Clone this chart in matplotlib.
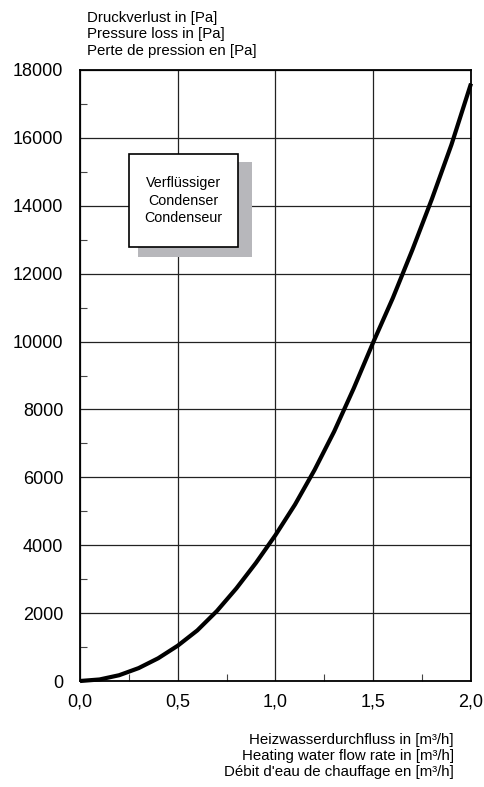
import numpy as np
from matplotlib import pyplot as plt
from matplotlib.patches import Rectangle
from matplotlib.ticker import MultipleLocator, FuncFormatter

plt.rcParams['font.family'] = ['Liberation Sans', 'DejaVu Sans']

# Heizwasserdurchfluss [m3/h] und Druckverlust [Pa]
flowRate = [0.0, 0.1, 0.2, 0.3, 0.4, 0.5, 0.6, 0.7, 0.8, 0.9, 1.0,
            1.1, 1.2, 1.3, 1.4, 1.5, 1.6, 1.7, 1.8, 1.9, 2.0]
pressureLoss = [0, 45, 170, 380, 670, 1040, 1490, 2060, 2730, 3480, 4300,
                5200, 6220, 7350, 8620, 9980, 11280, 12700, 14200, 15800, 17600]

yLabelLines = ["Druckverlust in [Pa]", "Pressure loss in [Pa]", "Perte de pression en [Pa]"]
xLabelLines = ["Heizwasserdurchfluss in [m³/h]", "Heating water flow rate in [m³/h]",
               "Débit d'eau de chauffage en [m³/h]"]
boxLines = ["Verflüssiger", "Condenser", "Condenseur"]

fig = plt.figure(figsize=(4.85, 7.87), dpi=100)
ax = fig.add_axes([80/485, 1-681/787, 391/485, 611/787])

ax.plot(flowRate, pressureLoss, "-", color="black", linewidth=3.0,
        solid_capstyle="butt", solid_joinstyle="round", zorder=5, clip_on=False)

ax.set_xlim(0, 2.0)
ax.set_ylim(0, 18000)
ax.xaxis.set_major_locator(MultipleLocator(0.5))
ax.xaxis.set_minor_locator(MultipleLocator(0.25))
ax.yaxis.set_major_locator(MultipleLocator(2000))
ax.yaxis.set_minor_locator(MultipleLocator(1000))
ax.xaxis.set_major_formatter(FuncFormatter(lambda v, p: f"{v:.1f}".replace(".", ",")))
ax.yaxis.set_major_formatter(FuncFormatter(lambda v, p: f"{int(v)}"))

ax.tick_params(which="major", length=0, labelsize=13)
ax.tick_params(axis="y", which="major", pad=12)
ax.tick_params(axis="x", which="major", pad=9)
ax.tick_params(which="minor", direction="in", length=5, width=0.8, color="#444444")

ax.grid(True, which="major", color="#222222", linewidth=0.9)
for s in ax.spines.values():
    s.set_linewidth(1.3)

# Beschriftungskasten mit Schatten
ax.add_patch(Rectangle((0.297, 12492), 0.583, 2800, facecolor="#b7b7bb",
                       edgecolor="none", zorder=3))
ax.add_patch(Rectangle((0.25, 12787), 0.558, 2740, facecolor="white",
                       edgecolor="black", linewidth=1.2, zorder=4))
boxY = [183, 201, 218]
for line, y in zip(boxLines, boxY):
    fig.text(183.5/485, 1-y/787, line, ha="center", va="center", fontsize=10.3, zorder=6)

# Achsenbeschriftungen, dreisprachig
topY = [18, 34, 51]
for line, y in zip(yLabelLines, topY):
    fig.text(87/485, 1-y/787, line, ha="left", va="center", fontsize=10.8)

bottomY = [740, 756, 772]
for line, y in zip(xLabelLines, bottomY):
    fig.text(454/485, 1-y/787, line, ha="right", va="center", fontsize=10.8)

plt.savefig("out.png", dpi=100)
plt.close()
